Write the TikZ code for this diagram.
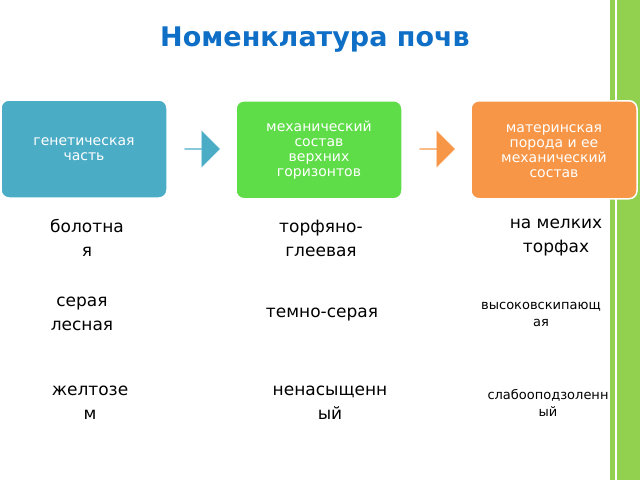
\documentclass[tikz,border=0pt]{standalone}
\usepackage{fontspec}
\setmainfont{DejaVu Sans}
\usetikzlibrary{shapes.arrows}
\definecolor{boxblue}{HTML}{4BACC6}
\definecolor{boxgreen}{HTML}{5FDD48}
\definecolor{boxorange}{HTML}{F79646}
\definecolor{bargreen}{HTML}{92D050}
\definecolor{titleblue}{HTML}{0F6FC6}
\tikzset{
  stage/.style={draw=white,line width=1.5pt,rounded corners=8pt,minimum width=166pt,
    minimum height=98pt,text=white,align=center,font=\fontsize{14}{15}\selectfont},
  steparrow/.style={single arrow,single arrow head extend=4pt,minimum height=36pt,
    minimum width=38pt,inner sep=0pt,draw=white},
  kind/.style={align=center,font=\fontsize{17}{24}\selectfont},
  smallkind/.style={align=center,font=\fontsize{13}{17}\selectfont}
}
\begin{document}
\begin{tikzpicture}[x=1pt,y=-1pt]
  \useasboundingbox (0,0) rectangle (640,480);
  % полоса справа
  \fill[bargreen] (610,0) rectangle (640,480);
  \draw[white,line width=1.5pt] (616,0) -- (616,480);
  % заголовок
  \node[text=titleblue,font=\fontsize{27}{30}\selectfont\bfseries] (title) at (315,40) {Номенклатура почв};
  % блоки
  \node[stage,fill=boxblue] (gen) at (84,149) {генетическая\\часть};
  \node[stage,fill=boxgreen,anchor=north] (mech) at (319,100) {\rule{0pt}{10pt}механический\\состав\\верхних\\горизонтов};
  \node[stage,fill=boxorange,anchor=north] (rock) at (554,100) {\rule{0pt}{10pt}материнская\\порода и ее\\механический\\состав};
  \node[steparrow,fill=boxblue] (a1) at (202,149) {};
  \node[steparrow,fill=boxorange] (a2) at (437,149) {};
  % названия
  \node[kind] (n1) at (87,238) {болотна\\я};
  \node[kind] (n2) at (82,314) {серая\\лесная};
  \node[kind] (n3) at (90,403) {желтозе\\м};
  \node[kind] (n4) at (321,238) {торфяно-\\глеевая};
  \node[kind] (n5) at (322,315) {темно-серая};
  \node[kind] (n6) at (330,403) {ненасыщенн\\ый};
  \node[kind] (n7) at (556,238) {на мелких\\торфах};
  \node[smallkind] (n8) at (541,314) {высоковскипающ\\ая};
  \node[smallkind] (n9) at (548,403) {слабооподзоленн\\ый};
\end{tikzpicture}
\end{document}
